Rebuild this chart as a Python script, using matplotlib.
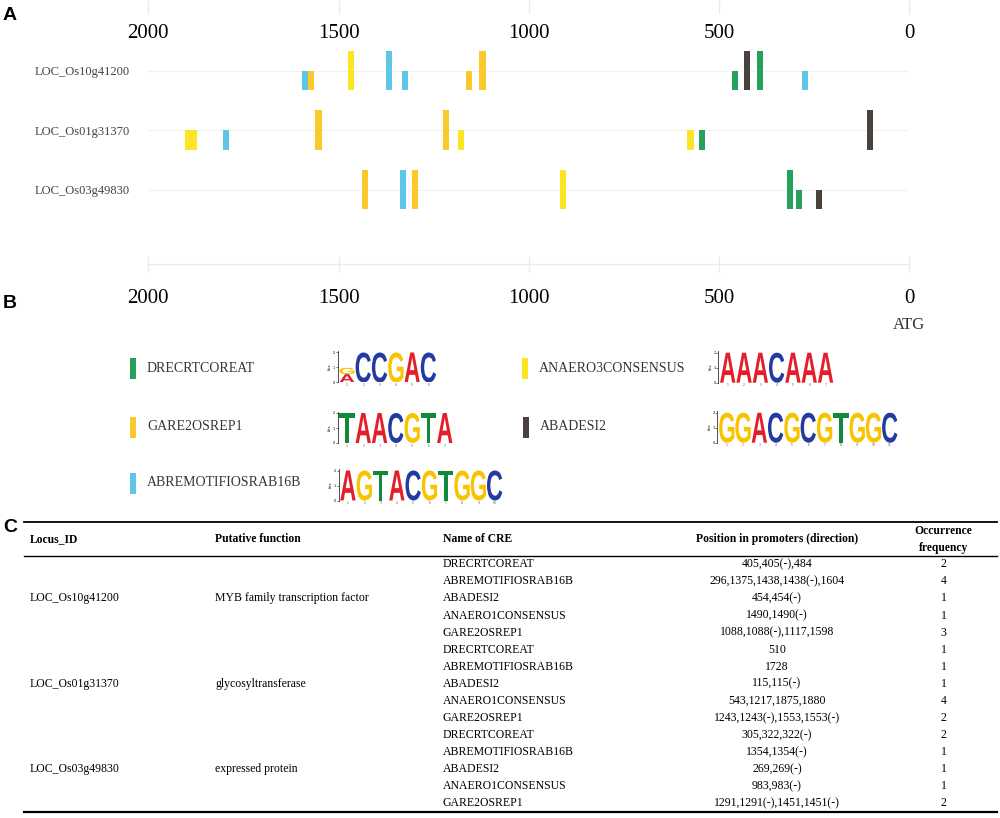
import matplotlib
matplotlib.use('Agg')
import matplotlib.pyplot as plt
from matplotlib.textpath import TextPath
from matplotlib.patches import PathPatch, Rectangle
from matplotlib.font_manager import FontProperties
from matplotlib.transforms import Affine2D

W, H = 1000, 818
SERIF = 'Liberation Serif'
LOGO_FONT = FontProperties(family='Liberation Sans', weight='bold')

# ---- data ----
loci = ['LOC_Os10g41200', 'LOC_Os01g31370', 'LOC_Os03g49830']
cre_keys = ['DRE', 'GARE', 'ABRE', 'ANAERO', 'ABADESI2']
cre_names = ['DRECRTCOREAT', 'GARE2OSREP1', 'ABREMOTIFIOSRAB16B', 'ANAERO3CONSENSUS', 'ABADESI2']
cre_colors = ['#25a15b', '#fac92b', '#5fc7e6', '#fbe524', '#4b413e']

# sites (position upstream of ATG, bp); both = found on both strands
os10_pos = [1587, 1572, 1468, 1368, 1326, 1158, 1122, 458, 427, 393, 275]
os10_cre = ['ABRE', 'GARE', 'ANAERO', 'ABRE', 'ABRE', 'GARE', 'GARE', 'DRE', 'ABADESI2', 'DRE', 'ABRE']
os10_both = [0, 0, 1, 1, 0, 0, 1, 0, 1, 1, 0]

os01_pos = [1896, 1879, 1795, 1553, 1217, 1178, 575, 545, 104]
os01_cre = ['ANAERO', 'ANAERO', 'ABRE', 'GARE', 'GARE', 'ANAERO', 'ANAERO', 'DRE', 'ABADESI2']
os01_both = [0, 0, 0, 1, 1, 0, 0, 0, 1]

os03_pos = [1430, 1330, 1300, 911, 314, 289, 237]
os03_cre = ['GARE', 'ABRE', 'GARE', 'ANAERO', 'DRE', 'DRE', 'ABADESI2']
os03_both = [1, 1, 1, 1, 1, 0, 0]

axis_ticks = [2000, 1500, 1000, 500, 0]

# sequence logos: columns (letters bottom to top) and their heights in bits
dre_cols = ['AG', 'C', 'C', 'G', 'A', 'C']
dre_bits = [[0.56, 0.42], [2.0], [2.0], [2.0], [2.0], [2.0]]
gare_cols = ['T', 'A', 'A', 'C', 'G', 'T', 'A']
gare_bits = [[2.0], [2.0], [2.0], [2.0], [2.0], [2.0], [2.0]]
abre_cols = ['A', 'G', 'T', 'A', 'C', 'G', 'T', 'G', 'G', 'C']
abre_bits = [[2.0], [2.0], [2.0], [2.0], [2.0], [2.0], [2.0], [2.0], [2.0], [2.0]]
anaero_cols = ['A', 'A', 'A', 'C', 'A', 'A', 'A']
anaero_bits = [[2.0], [2.0], [2.0], [2.0], [2.0], [2.0], [2.0]]
abadesi_cols = ['G', 'G', 'A', 'C', 'G', 'C', 'G', 'T', 'G', 'G', 'C']
abadesi_bits = [[2.0], [2.0], [2.0], [2.0], [2.0], [2.0], [2.0], [2.0], [2.0], [2.0], [2.0]]
base_colors = {'A': '#e3202a', 'C': '#233aa0', 'G': '#f8c400', 'T': '#10893b'}

# table (panel C)
tbl_functions = ['MYB family transcription factor', 'glycosyltransferase', 'expressed protein']
tbl_cre = ['DRECRTCOREAT', 'ABREMOTIFIOSRAB16B', 'ABADESI2', 'ANAERO1CONSENSUS', 'GARE2OSREP1']
tbl_positions = ['405,405(-),484', '296,1375,1438,1438(-),1604', '454,454(-)', '1490,1490(-)',
                 '1088,1088(-),1117,1598',
                 '510', '1728', '115,115(-)', '543,1217,1875,1880', '1243,1243(-),1553,1553(-)',
                 '305,322,322(-)', '1354,1354(-)', '269,269(-)', '983,983(-)',
                 '1291,1291(-),1451,1451(-)']
tbl_freq = [2, 4, 1, 1, 3, 1, 1, 1, 4, 2, 2, 1, 1, 1, 2]

fig = plt.figure(figsize=(W / 100, H / 100), dpi=100)

# overlay in pixel units for the legend, the table and panel letters
ax0 = fig.add_axes([0, 0, 1, 1])
ax0.set_xlim(0, W)
ax0.set_ylim(H, 0)
ax0.axis('off')

# ---- panel A ----
axA = fig.add_axes([148.3 / W, 1 - 264 / H, (909.3 - 148.3) / W, 264 / H])
axA.set_facecolor('none')
axA.set_xlim(2000, 0)
axA.set_ylim(3.244, -1.193)

for row, (pos, cre, both) in enumerate([(os10_pos, os10_cre, os10_both),
                                         (os01_pos, os01_cre, os01_both),
                                         (os03_pos, os03_cre, os03_both)]):
    for p, c, b in zip(pos, cre, both):
        col = cre_colors[cre_keys.index(c)]
        if b:
            axA.bar(p, 0.664, bottom=row - 0.336, width=16.5, color=col, lw=0)
        else:
            axA.bar(p, 0.328, bottom=row, width=16.5, color=col, lw=0)

axA.set_yticks(range(len(loci)))
axA.set_yticklabels(loci, fontsize=9, family=SERIF, color='#4a4141')
axA.tick_params(axis='y', length=0, pad=13)
axA.yaxis.grid(True, color='#f1f1f1', lw=0.8)
axA.set_axisbelow(True)

axA.set_xticks(axis_ticks)
axA.set_xticklabels([str(t) for t in axis_ticks], fontsize=15, family=SERIF)
axA.tick_params(axis='x', direction='inout', length=11.5, width=1, color='#ebebeb', pad=12)
for s in ['top', 'left', 'right']:
    axA.spines[s].set_visible(False)
axA.spines['bottom'].set_color('#ebebeb')
axA.spines['bottom'].set_linewidth(1)

xt = axA.get_xaxis_transform()
for t in axis_ticks:
    axA.plot([t, t], [1 - 13 / 264, 1], transform=xt, color='#ebebeb', lw=1, clip_on=False)
    axA.text(t, 1 - 33 / 264, str(t), transform=xt, ha='center', va='center',
             fontsize=15, family=SERIF)
axA.text(0, (264 - 325) / 264, 'ATG', transform=xt, ha='center', va='center',
         fontsize=12, family=SERIF, color='#333333')


# ---- panel B: legend and logos ----
def letter_at(ax, ch, x, y, w, h, color):
    tp = TextPath((0, 0), ch, size=1, prop=LOGO_FONT)
    bb = tp.get_extents()
    tr = Affine2D().translate(-bb.x0, -bb.y0).scale(w / bb.width, h / bb.height).translate(x, y)
    ax.add_patch(PathPatch(tr.transform_path(tp), fc=color, ec='none', lw=0))


def draw_logo(x_px, yb_px, cols, bits):
    n = len(cols)
    cw = 16.3
    ax = fig.add_axes([x_px / W, 1 - yb_px / H, (n + 0.08) * cw / W, 31.5 / H])
    ax.set_facecolor('none')
    ax.set_xlim(-0.08, n)
    ax.set_ylim(0, 2.1)
    for i, (letters, hs) in enumerate(zip(cols, bits)):
        y = 0
        for ch, h in zip(letters, hs):
            letter_at(ax, ch, i + 0.03, y, 0.94, h, base_colors[ch])
            y += h
    for s in ['top', 'right', 'bottom']:
        ax.spines[s].set_visible(False)
    ax.spines['left'].set_linewidth(0.6)
    ax.spines['left'].set_color('#333333')
    ax.set_yticks([0, 1, 2])
    ax.set_yticklabels(['0', '1', '2'], fontsize=2.5)
    ax.tick_params(axis='y', length=1.5, width=0.4, pad=0.5)
    ax.set_ylabel('bits', fontsize=2.5, labelpad=0.5)
    ax.set_xticks([i + 0.5 for i in range(n)])
    ax.set_xticklabels([str(i + 1) for i in range(n)], fontsize=2.2, color='#555555')
    ax.tick_params(axis='x', length=0, pad=0.5)


logo_cols = [dre_cols, gare_cols, abre_cols, anaero_cols, abadesi_cols]
logo_bits = [dre_bits, gare_bits, abre_bits, anaero_bits, abadesi_bits]
legend_x = [129.5, 129.5, 129.5, 521.5, 522.5]
legend_y = [368, 427, 483, 368, 427]
logo_x = [337.5, 337.5, 338.5, 718.3, 717.3]
logo_yb = [382.5, 443, 500.5, 382.7, 442.7]

for k in range(len(cre_names)):
    ax0.add_patch(Rectangle((legend_x[k], legend_y[k] - 10.5), 6.5, 21,
                            color=cre_colors[k], lw=0))
    ax0.text(legend_x[k] + 17.5, legend_y[k], cre_names[k], ha='left', va='center',
             fontsize=10, family=SERIF, color='#3b3333')
    draw_logo(logo_x[k], logo_yb[k], logo_cols[k], logo_bits[k])

# ---- panel C: table ----
x0, x1 = 24, 997
ax0.plot([x0, x1], [521.7, 521.7], color='black', lw=1.3)
ax0.plot([x0, x1], [555.7, 555.7], color='black', lw=1.0)
ax0.plot([x0, x1], [811.7, 811.7], color='black', lw=1.6)

hdr = dict(fontsize=8.4, family=SERIF, weight='bold', va='center')
ax0.text(30, 539, 'Locus_ID', ha='left', **hdr)
ax0.text(215, 539, 'Putative function', ha='left', **hdr)
ax0.text(442.7, 539, 'Name of CRE', ha='left', **hdr)
ax0.text(777, 539, 'Position in promoters (direction)', ha='center', **hdr)
ax0.text(943.4, 531, 'Occurrence', ha='center', **hdr)
ax0.text(943.4, 547.7, 'frequency', ha='center', **hdr)

body = dict(fontsize=8.5, family=SERIF, va='center')
row_h = 17.07
for i, pos in enumerate(tbl_positions):
    y = 564.3 + i * row_h
    ax0.text(442.7, y, tbl_cre[i % len(tbl_cre)], ha='left', **body)
    ax0.text(777, y, pos, ha='center', **body)
    ax0.text(943.4, y, str(tbl_freq[i]), ha='center', **body)
for g, (locus, func) in enumerate(zip(loci, tbl_functions)):
    y = 564.3 + (g * len(tbl_cre) + 2) * row_h
    ax0.text(30, y, locus, ha='left', **body)
    ax0.text(215, y, func, ha='left', **body)

# panel letters
for lab, y in zip(['A', 'B', 'C'], [16, 303, 527]):
    ax0.text(10, y, lab, ha='center', va='center', fontsize=14, weight='bold',
             family='Liberation Sans')

fig.savefig('out.png', dpi=100)
